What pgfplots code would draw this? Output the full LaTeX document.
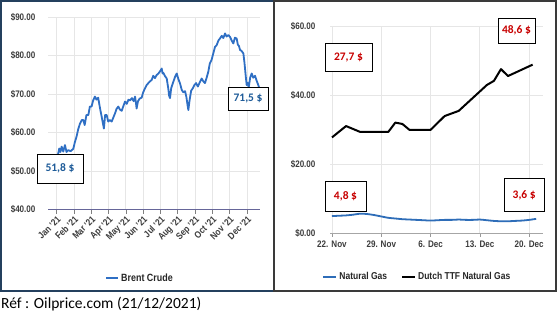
\documentclass[border=0pt]{standalone}
\usepackage{fontspec}
\setmainfont{Liberation Sans}[FakeStretch=0.85]
\newfontfamily\carlito{Carlito}
\usepackage{pgfplots}
\pgfplotsset{compat=1.18}
\definecolor{brentblue}{HTML}{2F6FC4}
\definecolor{gasblue}{HTML}{2E6DB8}
\definecolor{panelblue}{HTML}{24405E}
\definecolor{panelgray}{HTML}{3A3A3A}
\definecolor{gridc}{HTML}{E6E6E6}
\definecolor{labc}{HTML}{3C3C3C}
\definecolor{annblue}{HTML}{1F5C99}
\definecolor{annred}{HTML}{C80000}
\begin{document}
\begin{tikzpicture}[x=1pt,y=1pt]
\useasboundingbox (0,0) rectangle (560,315);
\fill[white] (0,0) rectangle (560,315);
\draw[line width=1.6pt, panelblue] (1,24) rectangle (274,314);
\draw[line width=1.2pt, panelgray] (274,24) rectangle (556,314);
\node[anchor=base west, inner sep=0pt, font=\carlito\fontsize{15.5}{17}\selectfont, text=black] at (1,6) {Réf : Oilprice.com (21/12/2021)};

\begin{axis}[
  at={(48pt,105.3pt)}, anchor=south west, scale only axis,
  width=212pt, height=192.4pt,
  xmin=-0.5, xmax=11.75, ymin=40, ymax=90,
  xtick={0,...,11},
  xticklabels={Jan '21,Feb '21,Mar '21,Apr '21,May '21,Jun '21,Jul '21,Aug '21,Sep '21,Oct '21,Nov '21,Dec '21},
  ytick={40,50,60,70,80,90},
  yticklabels={\$40.00,\$50.00,\$60.00,\$70.00,\$80.00,\$90.00},
  axis x line*=bottom, axis y line*=left,
  x axis line style={draw=gray!80!blue, line width=0.8pt, -},
  y axis line style={draw=none, -},
  grid=major, major grid style={gridc, line width=0.8pt},
  tick align=outside, major tick length=4pt,
  xtick style={draw=gray, line width=0.6pt},
  ytick style={draw=none},
  x tick label style={rotate=45, anchor=north east, font=\bfseries\fontsize{9.5}{10}\selectfont, text=labc, inner sep=1pt},
  y tick label style={font=\bfseries\fontsize{9.5}{10}\selectfont, text=labc, xshift=-5pt},
  legend style={at={(0.434,-0.355)}, anchor=center, draw=none, fill=none, font=\bfseries\fontsize{10.5}{12}\selectfont, text=black!85},
  legend image code/.code={\draw[#1, line width=2pt] (0pt,0pt) -- (12pt,0pt);},
  clip=false
]
\addplot[brentblue, line width=1.8pt, line join=round] coordinates {
(0.00,51.8)(0.08,54.4)(0.15,55.9)(0.22,55.0)(0.29,56.4)(0.38,55.1)(0.48,56.8)(0.57,55.0)(0.67,55.5)(0.80,55.2)(0.96,55.8)
(1.05,57.5)(1.15,59.0)(1.25,61.0)(1.35,62.4)(1.45,63.3)(1.54,63.3)(1.62,62.0)(1.72,64.6)(1.83,64.6)(1.92,66.8)
(2.02,66.8)(2.10,68.3)(2.21,69.4)(2.30,68.6)(2.40,69.1)(2.50,66.5)(2.60,64.2)(2.67,62.5)(2.73,61.1)(2.80,64.6)(2.89,64.6)(2.98,62.9)
(3.08,63.3)(3.18,62.9)(3.28,64.0)(3.37,65.0)(3.46,66.2)(3.56,66.8)(3.66,66.0)(3.76,65.7)(3.86,67.0)(3.95,68.1)
(4.05,67.5)(4.15,68.6)(4.24,68.4)(4.35,69.0)(4.45,68.2)(4.53,69.4)(4.58,67.8)(4.62,66.3)(4.70,68.2)(4.80,68.9)(4.91,69.1)
(5.00,70.5)(5.10,71.5)(5.20,72.4)(5.30,72.9)(5.40,73.4)(5.49,73.7)(5.58,74.8)(5.68,74.2)(5.78,75.0)(5.88,75.4)(5.98,76.0)
(6.07,76.7)(6.12,75.4)(6.16,75.6)(6.25,74.8)(6.36,74.1)(6.45,71.5)(6.50,69.6)(6.55,69.0)(6.62,71.6)(6.74,73.2)(6.84,74.5)(6.94,75.4)
(7.03,74.0)(7.13,72.8)(7.23,71.1)(7.32,70.5)(7.42,70.8)(7.50,69.2)(7.57,67.0)(7.61,65.9)(7.68,68.4)(7.77,70.9)(7.86,71.5)(7.96,72.4)
(8.06,72.9)(8.16,72.0)(8.28,73.2)(8.38,74.1)(8.47,73.4)(8.57,72.9)(8.66,74.2)(8.76,75.8)(8.85,78.0)(8.95,78.9)
(9.05,80.6)(9.15,82.3)(9.25,82.8)(9.35,84.0)(9.44,84.5)(9.54,85.2)(9.63,84.6)(9.73,85.8)(9.82,85.0)(9.92,85.4)
(10.02,84.9)(10.11,84.0)(10.21,83.2)(10.30,84.7)(10.40,84.5)(10.47,82.9)(10.53,82.6)(10.60,81.5)(10.68,81.3)(10.79,80.6)(10.85,78.3)(10.92,75.0)(10.98,72.4)
(11.03,73.0)(11.10,71.8)(11.18,74.3)(11.27,75.4)(11.36,74.3)(11.46,74.8)(11.55,73.6)(11.65,72.4)(11.72,71.5)
};
\addlegendentry{Brent Crude}
\node[draw=black, line width=0.8pt, fill=white, minimum width=46pt, minimum height=29pt, inner sep=0pt, font=\carlito\bfseries\fontsize{11.5}{13}\selectfont, text=annblue] at (axis cs:0.19,50.7) {51,8 \$};
\node[draw=black, line width=0.8pt, fill=white, minimum width=40pt, minimum height=23pt, inner sep=0pt, font=\carlito\bfseries\fontsize{11.5}{13}\selectfont, text=annblue] at (axis cs:11.06,68.9) {71,5 \$};
\end{axis}

\begin{axis}[
  at={(330pt,82pt)}, anchor=south west, scale only axis,
  width=213pt, height=207pt,
  xmin=-0.28, xmax=29.97, ymin=0, ymax=60,
  xtick={0,7,14,21,28},
  xticklabels={22. Nov,29. Nov,6. Dec,13. Dec,20. Dec},
  ytick={0,20,40,60},
  yticklabels={\$0.00,\$20.00,\$40.00,\$60.00},
  axis x line*=bottom, axis y line*=left,
  x axis line style={draw=gray!70, line width=0.8pt, -},
  y axis line style={draw=none, -},
  grid=major, major grid style={gridc, line width=0.8pt},
  tick align=outside, major tick length=4pt,
  xtick style={draw=gray!80, line width=0.6pt},
  ytick style={draw=none},
  x tick label style={font=\bfseries\fontsize{9.5}{10}\selectfont, text=labc},
  y tick label style={font=\bfseries\fontsize{9.5}{10}\selectfont, text=labc, xshift=-7pt},
  legend style={at={(0.41,-0.213)}, anchor=center, draw=none, fill=none, font=\bfseries\fontsize{10}{12}\selectfont, text=black!85, legend columns=2, /tikz/every even column/.append style={column sep=12pt}},
  legend image code/.code={\draw[#1, line width=2pt] (0pt,0pt) -- (13pt,0pt);},
  clip=false
]
\addplot[gasblue, line width=1.8pt, smooth, tension=0.4] coordinates {
(0,4.9)(1,5.0)(2,5.1)(3,5.3)(4,5.6)(5,5.5)(6,5.2)(7,4.8)(8,4.4)(9,4.2)(10,4.0)(11,3.9)(12,3.8)(13,3.7)(14,3.6)
(15,3.7)(16,3.8)(17,3.8)(18,3.9)(19,3.8)(20,3.8)(21,3.9)(22,3.7)(23,3.5)(24,3.4)(25,3.4)(26,3.5)(27,3.6)(28,3.8)(29,4.1)
};
\addlegendentry{Natural Gas}
\addplot[black, line width=2pt, line join=round] coordinates {
(0,27.7)(2,31.0)(4,29.3)(8,29.3)(9,32.0)(10,31.6)(11,29.9)(14,29.9)(16,33.9)(18,35.4)(22,42.9)(23,44.1)(24,47.5)(25,45.5)(28.5,48.8)
};
\addlegendentry{Dutch TTF Natural Gas}
\node[draw=black, line width=0.8pt, fill=white, minimum width=47pt, minimum height=28pt, inner sep=0pt, font=\carlito\bfseries\fontsize{11.5}{13}\selectfont, text=annred] at (axis cs:2.34,51.0) {27,7 \$};
\node[draw=black, line width=0.8pt, fill=white, minimum width=37pt, minimum height=25pt, inner sep=0pt, font=\carlito\bfseries\fontsize{11.5}{13}\selectfont, text=annred] at (axis cs:26.2,58.7) {48,6 \$};
\node[draw=black, line width=0.8pt, fill=white, minimum width=41pt, minimum height=30pt, inner sep=0pt, font=\carlito\bfseries\fontsize{11.5}{13}\selectfont, text=annred] at (axis cs:1.92,10.7) {4,8 \$};
\node[draw=black, line width=0.8pt, fill=white, minimum width=40pt, minimum height=33pt, inner sep=0pt, font=\carlito\bfseries\fontsize{11.5}{13}\selectfont, text=annred] at (axis cs:27.3,10.9) {3,6 \$};
\end{axis}
\end{tikzpicture}
\end{document}
